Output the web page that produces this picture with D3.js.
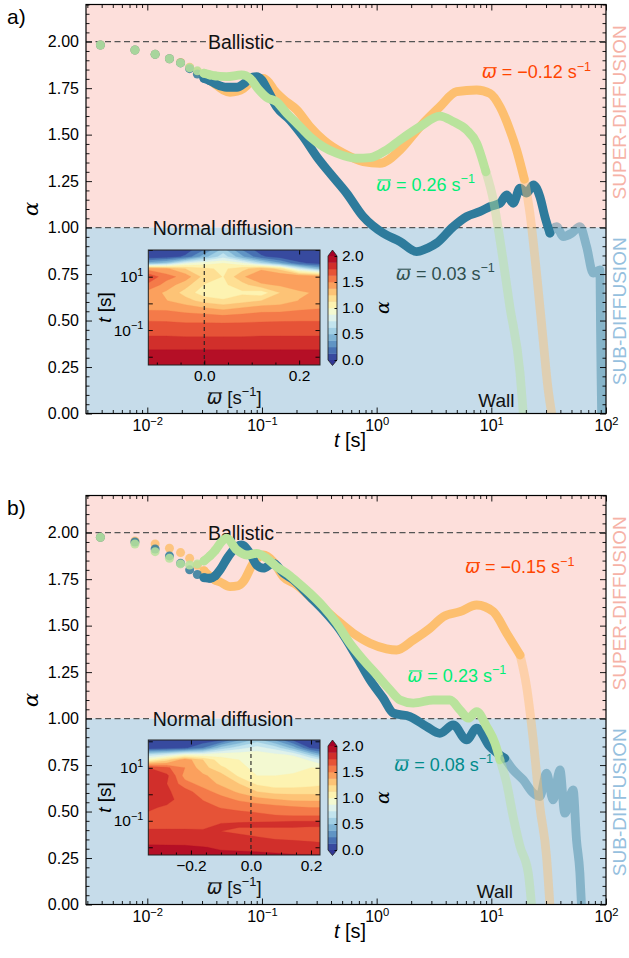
<!DOCTYPE html>
<html>
<head>
<meta charset="utf-8">
<title>Anomalous diffusion exponent vs lag time</title>
<script src="https://cdn.jsdelivr.net/npm/d3@7/dist/d3.min.js"></script>
<style>
  body { margin: 0; background: #fff; }
  svg text { font-family: "Liberation Sans", Arial, Helvetica, sans-serif; }
</style>
</head>
<body>
<svg id="fig" width="629" height="958"></svg>
<script>
// ---------- data ----------
// early lag times drawn as separate markers
var dotT = [0.0039, 0.0078, 0.0117, 0.0156, 0.0195, 0.0234, 0.0273, 0.0312, 0.0352, 0.0391];

// panel a)
var aDotOrange = [1.982, 1.955, 1.932, 1.908, 1.888, 1.862, 1.840, 1.815, 1.792, 1.772];
var aDotBlue   = [1.982, 1.955, 1.932, 1.908, 1.886, 1.855, 1.826, 1.803, 1.790, 1.778];
var aDotGreen  = [1.982, 1.955, 1.932, 1.908, 1.886, 1.860, 1.843, 1.830, 1.820, 1.815];

var aLineOrange = [[0.0312,1.815],[0.0391,1.772],[0.046,1.740],[0.0526,1.728],[0.0606,1.733],[0.0687,1.748],[0.077,1.775],[0.084,1.794],[0.1026,1.803],[0.115,1.780],[0.1255,1.745],[0.1535,1.690],[0.201,1.633],[0.262,1.543],[0.342,1.472],[0.512,1.400],[0.764,1.355],[1.07,1.346],[1.60,1.418],[2.39,1.543],[3.56,1.650],[4.98,1.731],[7.45,1.740],[9.72,1.722],[11.9,1.650],[14.5,1.525],[16.6,1.418],[19.4,1.260]];
var aFadeOrange = [[19.4,1.260],[21.7,1.077],[24.8,0.755],[28.3,0.396],[31.0,0.150],[33.6,0.0]];
var aLineBlue = [[0.0312,1.803],[0.0352,1.790],[0.0403,1.770],[0.0492,1.755],[0.0606,1.755],[0.070,1.776],[0.0786,1.803],[0.0899,1.812],[0.099,1.795],[0.110,1.749],[0.134,1.650],[0.1754,1.579],[0.229,1.489],[0.300,1.382],[0.392,1.292],[0.547,1.185],[0.764,1.059],[1.14,0.970],[1.60,0.925],[2.23,0.871],[2.80,0.890],[3.33,0.916],[4.66,1.005],[6.09,1.059],[7.96,1.086],[9.72,1.113],[11.9,1.131],[13.6,1.176],[15.5,1.131],[17.8,1.212],[20.3,1.185],[23.2,1.230],[26.5,1.167],[29.3,1.059],[32.4,0.970]];
var aFadeBlue = [[32.4,0.970],[37.1,1.005],[42.4,0.952],[50.1,0.970],[59.2,1.005],[67.7,0.898],[77.3,0.755],[88.5,0.773],[89.5,0.486],[90.5,0.219],[91.6,0.0]];
var aLineGreen = [[0.0312,1.830],[0.0376,1.818],[0.0492,1.812],[0.0665,1.821],[0.0786,1.803],[0.0929,1.745],[0.110,1.700],[0.134,1.677],[0.164,1.615],[0.201,1.561],[0.262,1.489],[0.342,1.435],[0.448,1.400],[0.670,1.373],[0.875,1.376],[1.22,1.418],[1.60,1.471],[2.39,1.543],[3.56,1.600],[4.66,1.570],[6.09,1.525],[7.45,1.454],[8.97,1.300]];
var aFadeGreen = [[8.97,1.300],[10.4,1.149],[11.9,0.934],[14.5,0.575],[17.8,0.217],[19.0,0.0]];

// panel b)
var bDotOrange = [1.975, 1.955, 1.939, 1.916, 1.893, 1.862, 1.825, 1.795, 1.765, 1.745];
var bDotBlue   = [1.975, 1.950, 1.912, 1.875, 1.835, 1.800, 1.775, 1.758, 1.755, 1.768];
var bDotGreen  = [1.975, 1.939, 1.898, 1.862, 1.832, 1.826, 1.832, 1.848, 1.875, 1.905];

var bLineOrange = [[0.0312,1.795],[0.0352,1.765],[0.0391,1.745],[0.0431,1.735],[0.0526,1.710],[0.062,1.715],[0.0687,1.737],[0.084,1.836],[0.1026,1.880],[0.1255,1.844],[0.1535,1.763],[0.201,1.719],[0.262,1.656],[0.342,1.594],[0.448,1.531],[0.624,1.459],[0.875,1.405],[1.22,1.375],[1.49,1.369],[2.09,1.423],[2.92,1.486],[3.81,1.548],[5.32,1.575],[7.45,1.611],[10.4,1.575],[13.6,1.459],[17.8,1.342]];
var bFadeOrange = [[17.8,1.342],[20.3,1.172],[23.2,0.885],[26.5,0.527],[30.3,0.258],[32.4,0.0]];
var bLineBlue = [[0.0312,1.758],[0.0352,1.755],[0.0391,1.768],[0.0431,1.800],[0.0508,1.871],[0.0603,1.925],[0.0665,1.934],[0.0786,1.889],[0.0899,1.826],[0.1026,1.809],[0.1255,1.836],[0.1535,1.782],[0.188,1.746],[0.262,1.656],[0.342,1.584],[0.479,1.477],[0.669,1.333],[0.875,1.208],[1.14,1.110],[1.40,1.029],[1.95,1.011],[2.73,0.957],[3.56,0.921],[4.66,0.966],[6.09,0.885],[7.45,0.948],[9.72,0.849],[13.1,0.787]];
var bFadeBlue = [[13.1,0.787],[15.5,0.724],[19.0,0.670],[23.2,0.599],[26.5,0.581],[30.3,0.706],[34.6,0.563],[39.7,0.724],[43.7,0.491],[51.7,0.617],[55.3,0.348],[59.2,0.169],[61.1,0.0]];
var bLineGreen = [[0.0312,1.848],[0.0352,1.875],[0.0391,1.905],[0.0445,1.952],[0.0492,1.970],[0.0603,1.907],[0.0736,1.880],[0.0899,1.889],[0.110,1.862],[0.134,1.817],[0.164,1.782],[0.201,1.737],[0.262,1.674],[0.342,1.602],[0.448,1.513],[0.585,1.405],[0.764,1.316],[1.00,1.236],[1.31,1.154],[1.60,1.100],[2.09,1.083],[3.11,1.100],[4.36,1.100],[5.32,1.047],[6.30,1.002],[7.45,1.038],[9.10,0.957],[10.75,0.868],[11.9,0.778]];
var bFadeGreen = [[11.9,0.778],[13.6,0.653],[15.5,0.473],[17.8,0.312],[21.0,0.169],[22.4,0.0]];

// annotations
var refLevels = [2, 1];
var refNames = ['Ballistic', 'Normal diffusion'];
var aOmegaText = ['\u22120.12', '0.26', '0.03'];
var bOmegaText = ['\u22120.15', '0.23', '0.08'];
var xTickVals = [0.01, 0.1, 1, 10, 100];
var yTickVals = [0, 0.25, 0.5, 0.75, 1, 1.25, 1.5, 1.75, 2];
var cbTickVals = [0, 0.5, 1, 1.5, 2];
var levels = d3.range(0, 2.0001, 0.125);

// inset heat maps: alpha(omega, t), rows from long to short lag time
var hmTopOmega = [-0.118, -0.08, -0.04, 0, 0.04, 0.08, 0.12, 0.16, 0.20, 0.244];
var hmTopLogT = [2.0, 1.75, 1.5, 1.3, 1.0, 0.7, 0.4, 0.1, -0.2, -0.5, -0.8, -1.1, -1.4, -1.7, -2.0, -2.31];
var hmTopAlpha = [
  [0.01,0.02,0.05,0.25,0.55,0.25,0.05,0.02,0.01,0.01],
  [0.03,0.05,0.15,0.45,0.70,0.40,0.15,0.05,0.02,0.02],
  [0.45,0.55,0.85,0.95,1.00,0.90,0.65,0.40,0.15,0.08],
  [1.45,1.40,1.25,1.15,1.10,1.20,1.35,1.20,0.75,0.45],
  [1.72,1.55,1.45,1.20,1.12,1.35,1.50,1.50,1.50,1.45],
  [1.60,1.45,1.30,1.12,1.10,1.20,1.35,1.40,1.45,1.40],
  [1.45,1.35,1.20,1.05,1.02,1.10,1.05,1.25,1.35,1.40],
  [1.42,1.38,1.30,1.20,1.15,1.20,1.25,1.30,1.38,1.42],
  [1.48,1.48,1.45,1.40,1.35,1.40,1.45,1.45,1.48,1.50],
  [1.58,1.57,1.55,1.55,1.53,1.55,1.56,1.57,1.58,1.58],
  [1.66,1.66,1.65,1.65,1.65,1.65,1.66,1.66,1.66,1.66],
  [1.73,1.73,1.72,1.72,1.72,1.72,1.73,1.73,1.73,1.73],
  [1.78,1.78,1.78,1.78,1.78,1.78,1.78,1.78,1.78,1.78],
  [1.87,1.87,1.87,1.87,1.87,1.87,1.87,1.87,1.87,1.87],
  [1.91,1.91,1.91,1.91,1.91,1.91,1.91,1.91,1.91,1.91],
  [1.93,1.93,1.93,1.93,1.93,1.93,1.93,1.93,1.93,1.93]
];
var hmBotOmega = [-0.342, -0.28, -0.22, -0.16, -0.10, -0.04, 0.02, 0.08, 0.14, 0.20, 0.23];
var hmBotLogT = [2.05, 1.75, 1.5, 1.3, 1.0, 0.7, 0.4, 0.1, -0.2, -0.5, -0.8, -1.1, -1.4, -1.7, -2.0, -2.29];
var hmBotAlpha = [
  [0.01,0.01,0.01,0.03,0.10,0.35,0.55,0.35,0.10,0.01,0.01],
  [0.03,0.05,0.10,0.25,0.55,0.70,0.80,0.70,0.45,0.10,0.05],
  [0.65,0.75,0.90,0.90,0.95,0.95,0.95,0.90,0.85,0.55,0.40],
  [1.00,1.20,1.45,1.25,1.05,1.00,0.95,0.95,0.95,0.85,0.75],
  [1.75,1.65,1.50,1.30,1.15,1.05,0.95,0.90,0.95,1.00,1.00],
  [1.80,1.78,1.45,1.40,1.30,1.10,1.00,1.00,1.02,1.05,1.05],
  [1.80,1.75,1.55,1.45,1.35,1.25,1.10,1.05,1.05,1.08,1.10],
  [1.80,1.77,1.68,1.55,1.45,1.35,1.25,1.20,1.20,1.20,1.20],
  [1.80,1.77,1.72,1.62,1.55,1.48,1.42,1.38,1.35,1.35,1.35],
  [1.76,1.74,1.70,1.66,1.62,1.60,1.58,1.55,1.52,1.50,1.50],
  [1.74,1.72,1.70,1.68,1.68,1.66,1.65,1.63,1.62,1.62,1.62],
  [1.68,1.68,1.70,1.72,1.75,1.76,1.77,1.78,1.80,1.80,1.80],
  [1.78,1.78,1.77,1.76,1.75,1.74,1.73,1.72,1.70,1.68,1.68],
  [1.82,1.81,1.80,1.79,1.78,1.77,1.76,1.75,1.74,1.73,1.72],
  [1.90,1.90,1.90,1.88,1.86,1.85,1.84,1.83,1.82,1.80,1.80],
  [1.92,1.92,1.92,1.91,1.90,1.90,1.90,1.89,1.88,1.88,1.88]
];

// ---------- layout ----------
var svg = d3.select('#fig');
var L = 86, R = 606;
var x = d3.scaleLog().domain([0.00292, 100]).range([L, R]);
var colors = ['#fdbf6f', '#2e7b9c', '#b9e39c'];
var fadeOp = [0.45, 0.42, 0.45];
var omegaColors = [['#ff4500', '#00ee76', '#2f4f4f'], ['#ff4500', '#00ee76', '#008b8b']];
var SERIF = '"DejaVu Serif", serif';

var panels = [
  { label: 'a)', top: 4.5, bottom: 413.5,
    dots: [aDotOrange, aDotBlue, aDotGreen],
    lines: [aLineOrange, aLineBlue, aLineGreen],
    fades: [aFadeOrange, aFadeBlue, aFadeGreen],
    omega: aOmegaText, notePos: [[8.23, 1.802], [0.986, 1.198], [1.47, 0.718]],
    refAt: [0.0656, 0.0457], wall: [7.69, 0.037],
    inset: { top: 250, bottom: 365, omegaDom: [-0.118, 0.244], tDom: [0.0049, 100], xMajor: [0, 0.2],
             om: hmTopOmega, lt: hmTopLogT, val: hmTopAlpha } },
  { label: 'b)', top: 495.5, bottom: 904.5,
    dots: [bDotOrange, bDotBlue, bDotGreen],
    lines: [bLineOrange, bLineBlue, bLineGreen],
    fades: [bFadeOrange, bFadeBlue, bFadeGreen],
    omega: bOmegaText, notePos: [[5.89, 1.781], [1.85, 1.198], [1.42, 0.719]],
    refAt: [0.0656, 0.0457], wall: [7.45, 0.033],
    inset: { top: 740, bottom: 855, omegaDom: [-0.342, 0.23], tDom: [0.0051, 112], xMajor: [-0.2, 0, 0.2],
             om: hmBotOmega, lt: hmBotLogT, val: hmBotAlpha } }
];

function bandColor(v) {
  if (v >= 2) return d3.interpolateRdYlBu(0);
  return d3.interpolateRdYlBu(1 - (v + 0.0625) / 2);
}

function styleAxis(a, fs) {
  a.select('.domain').remove();
  a.attr('font-size', fs).attr('font-family', null);
  a.selectAll('line').attr('stroke', '#000').attr('stroke-width', 0.9);
  a.selectAll('text').attr('fill', '#000');
}

function powLabels(a, fs) {
  a.selectAll('text').each(function(d) {
    var e = Math.round(Math.log10(d));
    var t = d3.select(this).text(null);
    t.append('tspan').text('10');
    t.append('tspan').attr('dy', -0.42 * fs).attr('font-size', 0.7 * fs).text(e < 0 ? '\u2212' + (-e) : String(e));
  });
}

// omega-bar label with hand-drawn overline
function omegaText(g, px, py, rest, supTxt, tail, fs, color, anchor) {
  var t = g.append('text').attr('x', px).attr('y', py).attr('font-size', fs)
    .attr('fill', color).attr('text-anchor', anchor || 'start');
  t.append('tspan').style('font-family', '"DejaVu Sans", sans-serif').style('font-style', 'italic').text('\u03c9');
  t.append('tspan').text(rest);
  t.append('tspan').attr('dy', -0.42 * fs).attr('font-size', 0.7 * fs).text(supTxt);
  if (tail) t.append('tspan').attr('dy', 0.42 * fs).text(tail);
  var ext = t.node().getExtentOfChar(0);
  var oy = py - 0.6 * fs;
  g.append('line').attr('x1', ext.x + 0.1 * fs).attr('x2', ext.x + ext.width).attr('y1', oy).attr('y2', oy)
    .attr('stroke', color).attr('stroke-width', 1.1);
  return t;
}

function drawPanel(p, idx) {
  var y = d3.scaleLinear().domain([0, 2.2]).range([p.bottom, p.top]);
  var g = svg.append('g');
  var clipId = 'clip' + idx;
  svg.append('clipPath').attr('id', clipId).append('rect')
    .attr('x', L).attr('y', p.top).attr('width', R - L).attr('height', p.bottom - p.top);

  // regimes
  g.append('rect').attr('x', L).attr('y', y(2.2)).attr('width', R - L).attr('height', y(1) - y(2.2)).attr('fill', '#fddfdb');
  g.append('rect').attr('x', L).attr('y', y(1)).attr('width', R - L).attr('height', y(0) - y(1)).attr('fill', '#c6dcea');

  g.append('text').attr('transform', 'translate(619.5,' + y(1.62) + ') rotate(-90)')
    .attr('text-anchor', 'middle').attr('dominant-baseline', 'central')
    .attr('font-size', 19).attr('fill', '#f6b2a7').text('SUPER-DIFFUSION');
  g.append('text').attr('transform', 'translate(619.5,' + y(0.55) + ') rotate(-90)')
    .attr('text-anchor', 'middle').attr('dominant-baseline', 'central')
    .attr('font-size', 19).attr('fill', '#96c0de').text('SUB-DIFFUSION');

  // reference lines, broken around their labels
  refLevels.forEach(function(lv, i) {
    var cx = x(p.refAt[i]), yy = y(lv);
    var t = g.append('text').attr('x', cx).attr('y', yy + 7).attr('text-anchor', 'middle')
      .attr('font-size', 19.5).attr('fill', '#111').text(refNames[i]);
    var w = t.node().getComputedTextLength();
    [[L, cx - w / 2 - 2], [cx + w / 2 + 2, R]].forEach(function(seg) {
      g.append('line').attr('x1', seg[0]).attr('x2', seg[1]).attr('y1', yy).attr('y2', yy)
        .attr('stroke', '#555').attr('stroke-width', 1.2).attr('stroke-dasharray', '6,3.5');
    });
  });

  // curves
  var plot = g.append('g').attr('clip-path', 'url(#' + clipId + ')');
  var line = d3.line().x(function(d) { return x(d[0]); }).y(function(d) { return y(d[1]); }).curve(d3.curveMonotoneX);
  [0, 1, 2].forEach(function(s) {
    plot.append('g').selectAll('circle').data(dotT).join('circle')
      .attr('cx', function(d) { return x(d); })
      .attr('cy', function(d, i) { return y(p.dots[s][i]); })
      .attr('r', 4.5).attr('fill', colors[s]).attr('fill-opacity', 0.85);
    plot.append('path').attr('d', line(p.lines[s])).attr('fill', 'none')
      .attr('stroke', colors[s]).attr('stroke-width', 8.8)
      .attr('stroke-linecap', 'round').attr('stroke-linejoin', 'round');
  });
  [1, 0, 2].forEach(function(s) {
    plot.append('path').attr('d', line(p.fades[s])).attr('fill', 'none')
      .attr('stroke', colors[s]).attr('stroke-opacity', fadeOp[s]).attr('stroke-width', 8.8)
      .attr('stroke-linecap', 'round').attr('stroke-linejoin', 'round');
  });

  // omega labels and wall
  p.omega.forEach(function(v, i) {
    omegaText(g, x(p.notePos[i][0]), y(p.notePos[i][1]), ' = ' + v + ' s', '\u22121', null, 18, omegaColors[idx][i]);
  });
  g.append('text').attr('x', x(p.wall[0])).attr('y', y(p.wall[1])).attr('font-size', 19)
    .attr('fill', '#111').text('Wall');

  // axes
  var yMinor = d3.range(0, 2.2001, 0.05).filter(function(v) { return Math.abs(v * 4 - Math.round(v * 4)) > 1e-6; });
  var xMinor = [];
  [-3, -2, -1, 0, 1].forEach(function(e) {
    for (var k = 2; k < 10; k++) { var v = k * Math.pow(10, e); if (v > 0.00292 && v < 100) xMinor.push(v); }
  });
  g.append('g').attr('transform', 'translate(0,' + p.bottom + ')')
    .call(d3.axisBottom(x).tickValues(xTickVals).tickSize(-6).tickSizeOuter(0).tickPadding(6.5))
    .call(styleAxis, 16).call(powLabels, 16);
  g.append('g').attr('transform', 'translate(0,' + p.bottom + ')')
    .call(d3.axisBottom(x).tickValues(xMinor).tickSize(-3.5).tickSizeOuter(0).tickFormat(function() { return ''; }))
    .call(styleAxis, 16);
  g.append('g').attr('transform', 'translate(0,' + p.top + ')')
    .call(d3.axisTop(x).tickValues(xTickVals).tickSize(-6).tickSizeOuter(0).tickFormat(function() { return ''; }))
    .call(styleAxis, 16);
  g.append('g').attr('transform', 'translate(0,' + p.top + ')')
    .call(d3.axisTop(x).tickValues(xMinor).tickSize(-3.5).tickSizeOuter(0).tickFormat(function() { return ''; }))
    .call(styleAxis, 16);
  g.append('g').attr('transform', 'translate(' + L + ',0)')
    .call(d3.axisLeft(y).tickValues(yTickVals).tickSize(-6).tickSizeOuter(0).tickPadding(7).tickFormat(d3.format('.2f')))
    .call(styleAxis, 16);
  g.append('g').attr('transform', 'translate(' + L + ',0)')
    .call(d3.axisLeft(y).tickValues(yMinor).tickSize(-3.5).tickSizeOuter(0).tickFormat(function() { return ''; }))
    .call(styleAxis, 16);
  g.append('g').attr('transform', 'translate(' + R + ',0)')
    .call(d3.axisRight(y).tickValues(yTickVals).tickSize(-6).tickSizeOuter(0).tickFormat(function() { return ''; }))
    .call(styleAxis, 16);
  g.append('g').attr('transform', 'translate(' + R + ',0)')
    .call(d3.axisRight(y).tickValues(yMinor).tickSize(-3.5).tickSizeOuter(0).tickFormat(function() { return ''; }))
    .call(styleAxis, 16);
  g.append('rect').attr('x', L).attr('y', p.top).attr('width', R - L).attr('height', p.bottom - p.top)
    .attr('fill', 'none').attr('stroke', '#000').attr('stroke-width', 1.2);

  // axis titles and panel label
  g.append('text').attr('transform', 'translate(37.5,' + (p.top + p.bottom) / 2 + ') rotate(-90)')
    .attr('text-anchor', 'middle').attr('font-size', 21).style('font-family', SERIF).style('font-style', 'italic')
    .text('\u03b1');
  var xl = g.append('text').attr('x', 350).attr('y', p.bottom + 33).attr('text-anchor', 'middle').attr('font-size', 20);
  xl.append('tspan').style('font-style', 'italic').text('t');
  xl.append('tspan').text(' [s]');
  g.append('text').attr('x', 7).attr('y', p.top + 19).attr('font-size', 21).text(p.label);

  drawInset(p.inset);
}

function drawInset(ins) {
  var IL = 148.3, IR = 320;
  var ix = d3.scaleLinear().domain(ins.omegaDom).range([IL, IR]);
  var iy = d3.scaleLog().domain(ins.tDom).range([ins.bottom, ins.top]);
  var g = svg.append('g');
  var n = ins.om.length, m = ins.lt.length;
  var values = [];
  ins.val.forEach(function(row) { row.forEach(function(v) { values.push(v); }); });

  // grid index space -> pixels (piecewise linear through the grid nodes)
  var gx = d3.scaleLinear()
    .domain([0].concat(d3.range(n).map(function(i) { return i + 0.5; })).concat([n]))
    .range([ix(ins.om[0])].concat(ins.om.map(ix)).concat([ix(ins.om[n - 1])]));
  var gy = d3.scaleLinear()
    .domain([0].concat(d3.range(m).map(function(i) { return i + 0.5; })).concat([m]))
    .range([iy(Math.pow(10, ins.lt[0]))].concat(ins.lt.map(function(l) { return iy(Math.pow(10, l)); })).concat([iy(Math.pow(10, ins.lt[m - 1]))]));
  var proj = d3.geoTransform({ point: function(px, py) { this.stream.point(gx(px), gy(py)); } });
  var path = d3.geoPath(proj);
  var contours = d3.contours().size([n, m]).thresholds(levels)(values);

  var clipId = 'hclip' + ins.top;
  svg.append('clipPath').attr('id', clipId).append('rect')
    .attr('x', IL).attr('y', ins.top).attr('width', IR - IL).attr('height', ins.bottom - ins.top);
  g.append('g').attr('clip-path', 'url(#' + clipId + ')')
    .selectAll('path').data(contours).join('path')
    .attr('d', path).attr('fill', function(d) { return bandColor(d.value); })
    .attr('stroke', function(d) { return bandColor(d.value); }).attr('stroke-width', 0.3);

  // omega = 0
  g.append('line').attr('x1', ix(0)).attr('x2', ix(0)).attr('y1', ins.top).attr('y2', ins.bottom)
    .attr('stroke', '#222').attr('stroke-width', 1.1).attr('stroke-dasharray', '4,3');

  // axes
  var xMinor = d3.range(-0.35, 0.2501, 0.05).filter(function(v) {
    return v > ins.omegaDom[0] && v < ins.omegaDom[1] && Math.abs(v * 5 - Math.round(v * 5)) > 1e-6;
  });
  var decades = [0.01, 0.1, 1, 10, 100].filter(function(v) { return v >= ins.tDom[0] && v <= ins.tDom[1]; });
  g.append('g').attr('transform', 'translate(0,' + ins.bottom + ')')
    .call(d3.axisBottom(ix).tickValues(ins.xMajor).tickSize(-4.5).tickSizeOuter(0).tickPadding(5).tickFormat(d3.format('.1f')))
    .call(styleAxis, 15.5);
  g.append('g').attr('transform', 'translate(0,' + ins.bottom + ')')
    .call(d3.axisBottom(ix).tickValues(xMinor).tickSize(-2.5).tickSizeOuter(0).tickFormat(function() { return ''; }))
    .call(styleAxis, 15.5);
  g.append('g').attr('transform', 'translate(0,' + ins.top + ')')
    .call(d3.axisTop(ix).tickValues(ins.xMajor).tickSize(-4.5).tickSizeOuter(0).tickFormat(function() { return ''; }))
    .call(styleAxis, 15.5);
  var la = g.append('g').attr('transform', 'translate(' + IL + ',0)')
    .call(d3.axisLeft(iy).tickValues(decades).tickSize(-4.5).tickSizeOuter(0).tickPadding(5))
    .call(styleAxis, 15.5).call(powLabels, 15.5);
  la.selectAll('.tick text').filter(function(d) { return Math.round(Math.log10(d)) % 2 === 0; }).remove();
  g.append('g').attr('transform', 'translate(' + IR + ',0)')
    .call(d3.axisRight(iy).tickValues(decades).tickSize(-4.5).tickSizeOuter(0).tickFormat(function() { return ''; }))
    .call(styleAxis, 15.5);
  g.append('rect').attr('x', IL).attr('y', ins.top).attr('width', IR - IL).attr('height', ins.bottom - ins.top)
    .attr('fill', 'none').attr('stroke', '#222').attr('stroke-width', 1);

  omegaText(g, (IL + IR) / 2, ins.bottom + 39, ' [s', '\u22121', ']', 18.5, '#111', 'middle');
  var yl = g.append('text').attr('transform', 'translate(111,' + (ins.top + ins.bottom) / 2 + ') rotate(-90)')
    .attr('text-anchor', 'middle').attr('font-size', 19);
  yl.append('tspan').style('font-style', 'italic').text('t');
  yl.append('tspan').text(' [s]');

  // colorbar
  var cb = d3.scaleLinear().domain([0, 2]).range([ins.top + 110, ins.top + 6]);
  var c0 = 328, c1 = 337;
  g.append('g').selectAll('rect').data(levels.slice(0, -1)).join('rect')
    .attr('x', c0).attr('width', c1 - c0)
    .attr('y', function(d) { return cb(d + 0.125); })
    .attr('height', function(d) { return cb(d) - cb(d + 0.125) + 0.3; })
    .attr('fill', bandColor);
  g.append('path').attr('d', 'M' + c0 + ',' + cb(2) + 'L' + (c0 + c1) / 2 + ',' + ins.top + 'L' + c1 + ',' + cb(2) + 'Z')
    .attr('fill', d3.interpolateRdYlBu(0));
  g.append('path').attr('d', 'M' + c0 + ',' + cb(0) + 'L' + (c0 + c1) / 2 + ',' + (ins.bottom + 0.5) + 'L' + c1 + ',' + cb(0) + 'Z')
    .attr('fill', d3.interpolateRdYlBu(1));
  g.append('path').attr('d', 'M' + c0 + ',' + cb(2) + 'L' + (c0 + c1) / 2 + ',' + ins.top + 'L' + c1 + ',' + cb(2) +
      'L' + c1 + ',' + cb(0) + 'L' + (c0 + c1) / 2 + ',' + (ins.bottom + 0.5) + 'L' + c0 + ',' + cb(0) + 'Z')
    .attr('fill', 'none').attr('stroke', '#222').attr('stroke-width', 0.8);
  g.append('g').attr('transform', 'translate(' + c1 + ',0)')
    .call(d3.axisRight(cb).tickValues(cbTickVals).tickSize(-2.5).tickSizeOuter(0).tickPadding(5).tickFormat(d3.format('.1f')))
    .call(styleAxis, 15.5);
  g.append('text').attr('transform', 'translate(389,' + (ins.top + ins.bottom) / 2 + ') rotate(-90)')
    .attr('text-anchor', 'middle').attr('font-size', 19).style('font-family', SERIF).style('font-style', 'italic')
    .text('\u03b1');
}

panels.forEach(drawPanel);
</script>
</body>
</html>
